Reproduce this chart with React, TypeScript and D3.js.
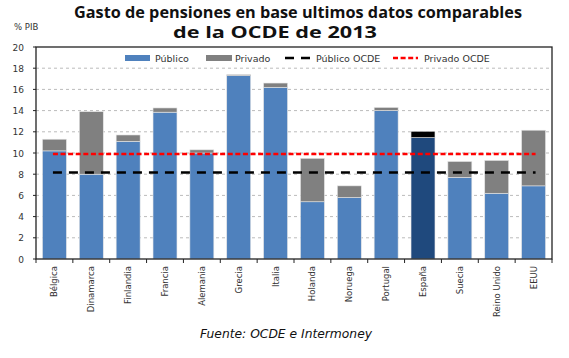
import React from "react";
import * as d3 from "d3";

const countries = ["Bélgica","Dinamarca","Finlandia","Francia","Alemania","Grecia","Italia","Holanda","Noruega","Portugal","España","Suecia","Reino Unido","EEUU"];
const publico = [10.2, 8.0, 11.1, 13.85, 10.0, 17.3, 16.2, 5.4, 5.8, 14.0, 11.45, 7.7, 6.2, 6.9];
const privado = [1.1, 5.9, 0.6, 0.4, 0.3, 0.1, 0.4, 4.1, 1.1, 0.3, 0.6, 1.5, 3.1, 5.25];
const publicoOCDE = 8.15;
const privadoOCDE = 9.9;
const yTicks = [0, 2, 4, 6, 8, 10, 12, 14, 16, 18, 20];
const highlight = "España";

const W = 569, H = 358;
const left = 36, right = 552, top = 47, bottom = 259;

export default function App() {
  const x = d3.scaleBand<string>().domain(countries).range([left, right]).paddingInner(0.35).paddingOuter(0.175);
  const y = d3.scaleLinear().domain([0, 20]).range([bottom, top]);
  const step = x.step();
  const firstC = (x(countries[0]) as number) + x.bandwidth() / 2 - 1.5;
  const lastC = (x(countries[countries.length - 1]) as number) + x.bandwidth() / 2 + 2;
  const font = "'DejaVu Sans', sans-serif";
  return (
    <div style={{ position: "fixed", left: 0, top: 0 }}>
      <svg width={W} height={H} style={{ display: "block", background: "#fff" }}>
        <text x={298} y={17.5} textAnchor="middle" fontFamily="'Open Sans', sans-serif" fontWeight="bold" fontSize={16} textLength={448} lengthAdjust="spacingAndGlyphs" fill="#111">Gasto de pensiones en base ultimos datos comparables</text>
        <text x={275} y={37.5} textAnchor="middle" fontFamily="'Open Sans', sans-serif" fontWeight="bold" fontSize={15.5} textLength={204} lengthAdjust="spacingAndGlyphs" fill="#111">de la OCDE de 2013</text>
        <text x={14} y={30} fontFamily={font} fontSize={8.5} fill="#333">% PIB</text>
        {/* gridlines */}
        {yTicks.filter(t => t > 0 && t < 20).map(t => (
          <line key={t} x1={left} x2={right} y1={y(t)} y2={y(t)} stroke="#bbb" strokeWidth={1} strokeDasharray="3,3" />
        ))}
        {/* bars */}
        {countries.map((c, i) => {
          const bx = x(c) as number;
          const hl = c === highlight;
          return (
            <g key={c}>
              <rect x={bx} y={y(publico[i])} width={x.bandwidth()} height={y(0) - y(publico[i])} fill={hl ? "#1F497D" : "#4F81BD"} stroke="#e6e6e6" strokeWidth={0.6} />
              <rect x={bx} y={y(publico[i] + privado[i])} width={x.bandwidth()} height={y(publico[i]) - y(publico[i] + privado[i])} fill={hl ? "#000" : "#808080"} stroke="#e6e6e6" strokeWidth={0.6} />
            </g>
          );
        })}
        {/* OCDE lines */}
        <line x1={firstC} x2={lastC} y1={y(publicoOCDE)} y2={y(publicoOCDE)} stroke="#000" strokeWidth={2.5} strokeDasharray="9,7" />
        <line x1={firstC} x2={lastC} y1={y(privadoOCDE)} y2={y(privadoOCDE)} stroke="#ff0000" strokeWidth={2.5} strokeDasharray="5,2.6" />
        {/* plot frame */}
        <rect x={left} y={top} width={right - left} height={bottom - top} fill="none" stroke="#222" strokeWidth={1.3} />
        {/* y ticks */}
        {yTicks.map(t => (
          <g key={t}>
            <line x1={left - 3} x2={left} y1={y(t)} y2={y(t)} stroke="#222" />
            <text x={24} y={y(t) + 3.5} textAnchor="end" fontFamily={font} fontSize={9} fill="#333">{t}</text>
          </g>
        ))}
        {/* x ticks */}
        {d3.range(countries.length + 1).map(i => (
          <line key={i} x1={left + i * step} x2={left + i * step} y1={bottom} y2={bottom + 4} stroke="#222" />
        ))}
        {countries.map(c => {
          const cx = (x(c) as number) + x.bandwidth() / 2;
          return (
            <text key={c} transform={`translate(${cx + 3},${266}) rotate(-90)`} textAnchor="end" fontFamily={font} fontSize={8.5} fill="#333">{c}</text>
          );
        })}
        {/* legend */}
        <g fontFamily={font} fontSize={9.5} fill="#333">
          <rect x={125} y={55} width={25} height={6} fill="#4F81BD" />
          <text x={155} y={61.5}>Público</text>
          <rect x={206} y={55} width={26} height={6} fill="#808080" />
          <text x={235} y={61.5}>Privado</text>
          <line x1={285} x2={310} y1={58} y2={58} stroke="#000" strokeWidth={2.5} strokeDasharray="9,7" />
          <text x={316} y={61.5}>Público OCDE</text>
          <line x1={393} x2={418} y1={58} y2={58} stroke="#ff0000" strokeWidth={2.5} strokeDasharray="5,2.6" />
          <text x={424} y={61.5}>Privado OCDE</text>
        </g>
        <text x={286} y={338} textAnchor="middle" fontFamily={font} fontStyle="italic" fontSize={13} textLength={172} lengthAdjust="spacingAndGlyphs" fill="#111">Fuente: OCDE e Intermoney</text>
      </svg>
    </div>
  );
}
